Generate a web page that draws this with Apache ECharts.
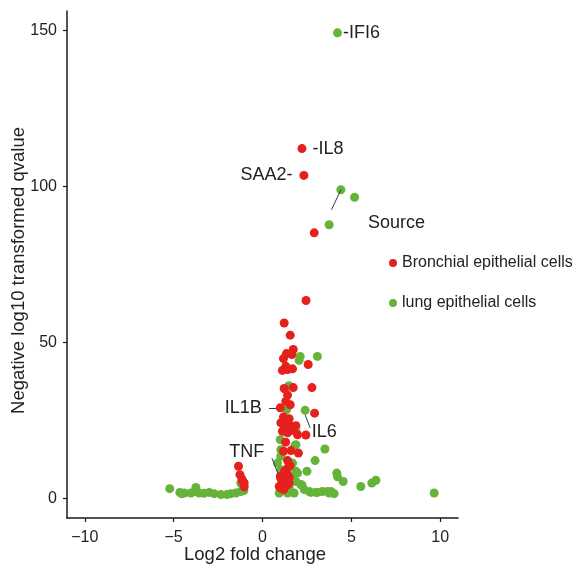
<!DOCTYPE html>
<html>
<head>
<meta charset="utf-8">
<script src="https://cdn.jsdelivr.net/npm/echarts@6/dist/echarts.min.js"></script>
<style>
  html, body { margin: 0; padding: 0; background: #fff; }
  #chart { width: 576px; height: 565px; }
</style>
</head>
<body>
<div id="chart"></div>
<script>
// labelled genes come first in each group
const lungGenes = ['IFI6', 'IL6'];
const lungFC = [4.22, 2.40, 4.41, 5.18, 3.75, 2.12, 3.09, 2.06, 1.48, 1.35, 1.28, 1.00, 1.03, 1.03, 1.88,
    1.82, 3.51, 2.96, 2.50, 4.18, 4.22, 4.54, 1.88, 1.60, 1.88, 1.03, 1.03, 1.41, 1.78, 2.16, 2.35, 2.63,
    3.00, 3.37, 3.75, 4.03, 0.84, 0.94, 5.53, 6.15, 6.38, 9.66, 3.85, 1.41, 1.88, 1.69, 1.97, 1.20, 1.50,
    1.10, 3.09, 3.66, 2.72, 2.22,
    -5.22, -4.65, -4.40, -4.03, -3.78, -3.56, -3.00, -2.72, -2.34, -1.78, -1.50, -1.22, -1.22, -3.75,
    -2.00, -1.05, -4.55, -3.30];
const lungQ = [149.2, 28.2, 98.9, 96.5, 87.7, 45.5, 45.5, 44.2, 36.1, 28.4, 35.1, 18.8, 15.6, 13.5, 17.2,
    16.9, 15.8, 12.1, 8.7, 8.1, 6.9, 5.4, 8.7, 6.5, 5.4, 9.2, 2.2, 1.7, 1.7, 4.4, 2.8, 2.2,
    1.9, 2.2, 1.7, 1.5, 11.3, 1.7, 3.8, 4.9, 5.8, 1.7, 2.2, 21.5, 21.5, 11.3, 8.1, 3.0, 3.5,
    6.0, 1.9, 2.2, 1.9, 4.3,
    3.1, 1.9, 1.7, 1.7, 2.2, 1.7, 1.9, 1.5, 1.2, 1.5, 1.7, 2.2, 4.9, 3.5,
    1.2, 2.5, 1.5, 1.6];

const bronchialGenes = ['IL8', 'SAA2', 'IL1B', 'TNF'];
const bronchialFC = [2.22, 2.33, 1.00, 1.00, 2.91, 2.45, 1.22, 1.56, 1.73, 1.35, 1.18, 1.65, 2.57, 1.12,
    1.41, 1.69, 1.31, 1.22, 1.73, 2.78, 1.41, 1.31, 1.56, 1.18, 2.93, 1.03, 1.26, 1.41, 1.60, 1.88,
    1.12, 1.41, 2.44, 1.97, 1.18, 1.60, 2.02, 1.41, 1.41, 1.22, 1.03, 1.31, 1.12, 1.41, 0.94, 1.50,
    1.70, 1.30, 1.25, 1.50, 1.20, 1.35, 1.10, 1.25, 1.50, 1.55, 1.05,
    -1.35, -1.27, -1.16, -1.03, -1.03, -1.12];
const bronchialQ = [112.1, 103.5, 29.0, 7.0, 85.1, 63.4, 56.2, 52.3, 47.7, 46.4, 44.8, 46.1, 42.9, 41.0,
    41.3, 41.5, 42.3, 35.2, 35.5, 35.5, 33.1, 31.1, 30.0, 26.1, 27.3, 24.2, 23.1, 24.7, 23.1, 23.3,
    21.5, 21.0, 20.3, 20.4, 15.1, 15.3, 14.5, 12.1, 9.7, 8.1, 6.5, 6.0, 4.4, 7.6, 3.8, 25.5,
    21.8, 18.0, 5.0, 4.8, 2.8, 4.2, 5.5, 8.8, 6.8, 10.5, 3.2,
    10.3, 7.6, 6.2, 4.9, 3.7, 5.4];

// label connector segments, in data units
const connectors = [
    [[4.41, 98.9], [3.88, 92.5]],
    [[2.40, 26.8], [2.68, 22.6]],
    [[0.53, 12.9], [0.87, 7.9]],
    [[0.37, 29.0], [0.77, 29.0]]
];

const xTicks = [-10, -5, 0, 5, 10];
const yTicks = [0, 50, 100, 150];

const RED = '#E5211D';
const GREEN = '#66B33A';
const FONT = '"Liberation Sans", Arial, sans-serif';
const INK = '#222222';

const labelStyle = {
    IFI6: { position: 'right', distance: 1, formatter: '-IFI6' },
    IL8: { position: 'right', distance: 6, formatter: '-IL8' },
    SAA2: { position: 'left', distance: 7, formatter: 'SAA2-' },
    IL1B: { position: 'left', distance: 14, formatter: 'IL1B' },
    IL6: { position: [11, 26], align: 'left', verticalAlign: 'middle', formatter: 'IL6' },
    TNF: { position: [-29, -20], align: 'center', verticalAlign: 'middle', formatter: 'TNF' }
};

function buildData(fc, q, genes) {
    return fc.map(function (x, i) {
        const item = { value: [x, q[i]] };
        const gene = genes[i];
        if (gene) {
            item.name = gene;
            item.label = Object.assign({
                show: true,
                fontSize: 18,
                fontFamily: FONT,
                color: INK
            }, labelStyle[gene]);
        }
        return item;
    });
}

var myChart = echarts.init(document.getElementById('chart'));

var option = {
    animation: false,
    textStyle: { fontFamily: FONT },
    title: {
        text: 'Source',
        left: 368,
        top: 214,
        padding: 0,
        textStyle: { fontSize: 18, fontWeight: 'normal', color: INK, fontFamily: FONT }
    },
    legend: {
        data: ['Bronchial epithelial cells', 'lung epithelial cells'],
        orient: 'vertical',
        left: 389,
        top: 254,
        padding: 0,
        icon: 'circle',
        itemWidth: 8,
        itemHeight: 8,
        itemGap: 22,
        textStyle: { fontSize: 16, lineHeight: 18, color: INK, fontFamily: FONT }
    },
    grid: { left: 67, right: 118, top: 11, bottom: 47, outerBoundsMode: 'none', containLabel: false },
    xAxis: {
        type: 'value',
        min: -11,
        max: 11,
        name: 'Log2 fold change',
        nameLocation: 'middle',
        nameGap: 27,
        nameMoveOverlap: false,
        nameTextStyle: { fontSize: 18.5, color: INK, fontFamily: FONT, verticalAlign: 'top', padding: [0, 15, 0, 0] },
        splitLine: { show: false },
        axisLine: { onZero: false, lineStyle: { color: '#1a1a1a', width: 1.5 } },
        axisTick: { length: 4, lineStyle: { color: '#1a1a1a', width: 1.2 }, customValues: xTicks },
        axisLabel: {
            fontSize: 16, color: INK, margin: 12,
            customValues: xTicks,
            formatter: function (v) { return String(v).replace('-', '\u2212'); }
        }
    },
    yAxis: {
        type: 'value',
        min: -6.3,
        max: 156.2,
        name: 'Negative log10 transformed qvalue',
        nameLocation: 'middle',
        nameGap: 38.5,
        nameRotate: 90,
        nameMoveOverlap: false,
        nameTextStyle: { fontSize: 18.5, color: INK, fontFamily: FONT, padding: [0, 12, 0, 0] },
        splitLine: { show: false },
        axisLine: { show: true, onZero: false, lineStyle: { color: '#1a1a1a', width: 1.5 } },
        axisTick: { show: true, length: 4, lineStyle: { color: '#1a1a1a', width: 1.2 }, customValues: yTicks },
        axisLabel: { fontSize: 16, color: INK, margin: 10, customValues: yTicks }
    },
    series: [
        {
            name: 'lung epithelial cells',
            type: 'scatter',
            symbolSize: 9,
            itemStyle: { color: GREEN, opacity: 1 },
            data: buildData(lungFC, lungQ, lungGenes),
            z: 2
        },
        {
            name: 'Bronchial epithelial cells',
            type: 'scatter',
            symbolSize: 9,
            itemStyle: { color: RED, opacity: 1 },
            data: buildData(bronchialFC, bronchialQ, bronchialGenes),
            z: 3
        },
        {
            type: 'lines',
            coordinateSystem: 'cartesian2d',
            silent: true,
            lineStyle: { color: '#2d4059', width: 1, opacity: 1 },
            data: connectors.map(function (c) { return { coords: c }; }),
            z: 4
        }
    ]
};

myChart.setOption(option);
window.addEventListener('resize', function () {
    myChart.resize();
});
</script>
</body>
</html>
